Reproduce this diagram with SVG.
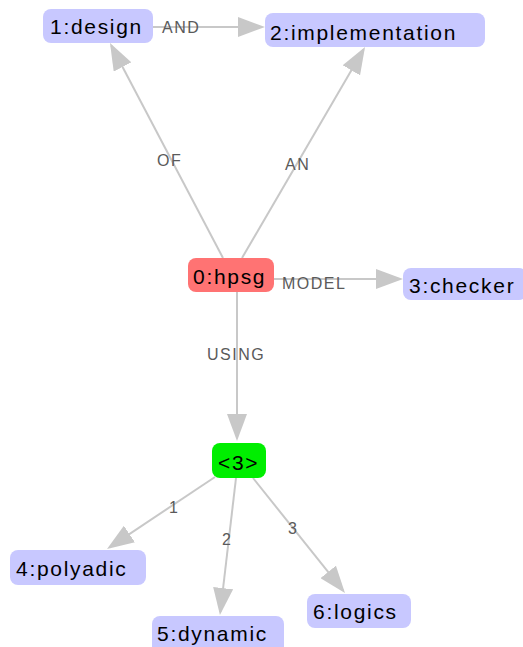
<svg xmlns="http://www.w3.org/2000/svg" width="523" height="647" viewBox="0 0 523 647">
  <style>
    .node rect { stroke: none; }
    .plain rect { fill: #c8c8ff; }
    .root rect { fill: #ff7373; }
    .group rect { fill: #00ee00; }
    .node text { font-family: "Liberation Sans", Arial, sans-serif; font-size: 21px; letter-spacing: 1.7px; fill: #000; }
    .edge line { stroke: #c8c8c8; stroke-width: 2; fill: none; marker-end: url(#arrow); }
    .edge text { font-family: "Liberation Sans", Arial, sans-serif; font-size: 16px; letter-spacing: 1.5px; fill: #5a5a5a; }
  </style>
  <defs>
    <marker id="arrow" markerUnits="userSpaceOnUse" markerWidth="27" markerHeight="20" refX="24" refY="10" orient="auto" viewBox="0 0 27 20">
      <path d="M0,0 L27,10 L0,20 z" fill="#c8c8c8"/>
    </marker>
  </defs>
  <rect width="523" height="647" fill="#ffffff"/>

  <!-- connectors -->
  <g id="edges">
    <g class="edge" id="e-and">
      <line x1="153" y1="27" x2="262" y2="27"/>
      <text x="162" y="33">AND</text>
    </g>
    <g class="edge" id="e-of">
      <line x1="223" y1="258" x2="111.4" y2="45.7"/>
      <text x="157" y="166">OF</text>
    </g>
    <g class="edge" id="e-an">
      <line x1="242" y1="258" x2="363.5" y2="49.6"/>
      <text x="285" y="170">AN</text>
    </g>
    <g class="edge" id="e-model">
      <line x1="274" y1="279" x2="400" y2="279"/>
      <text x="282" y="289">MODEL</text>
    </g>
    <g class="edge" id="e-using">
      <line x1="237" y1="292" x2="237" y2="438"/>
      <text x="207" y="360">USING</text>
    </g>
    <g class="edge" id="e-1">
      <line x1="215" y1="477" x2="109.5" y2="547.3"/>
      <text x="169" y="513">1</text>
    </g>
    <g class="edge" id="e-2">
      <line x1="236" y1="478" x2="220.3" y2="612"/>
      <text x="222" y="545">2</text>
    </g>
    <g class="edge" id="e-3">
      <line x1="253" y1="478" x2="343.1" y2="590.7"/>
      <text x="288" y="534">3</text>
    </g>
  </g>

  <!-- nodes -->
  <g id="n0" class="node root">
    <rect x="188" y="258" width="86" height="34" rx="8"/>
    <text x="193" y="284">0:hpsg</text>
  </g>
  <g id="n1" class="node plain">
    <rect x="43" y="9" width="110" height="34" rx="8"/>
    <text x="50" y="34">1:design</text>
  </g>
  <g id="n2" class="node plain">
    <rect x="265" y="13" width="220" height="34" rx="8"/>
    <text x="270" y="40">2:implementation</text>
  </g>
  <g id="n3" class="node plain">
    <rect x="403" y="268" width="124" height="32" rx="8"/>
    <text x="409" y="293">3:checker</text>
  </g>
  <g id="g3" class="node group">
    <rect x="212" y="443" width="54" height="35" rx="8"/>
    <text x="218" y="470">&lt;3&gt;</text>
  </g>
  <g id="n4" class="node plain">
    <rect x="10" y="550" width="136" height="35" rx="8"/>
    <text x="16" y="576">4:polyadic</text>
  </g>
  <g id="n5" class="node plain">
    <rect x="152" y="616" width="132" height="38" rx="8"/>
    <text x="157" y="641">5:dynamic</text>
  </g>
  <g id="n6" class="node plain">
    <rect x="307" y="594" width="104" height="34" rx="8"/>
    <text x="313" y="619">6:logics</text>
  </g>
</svg>
